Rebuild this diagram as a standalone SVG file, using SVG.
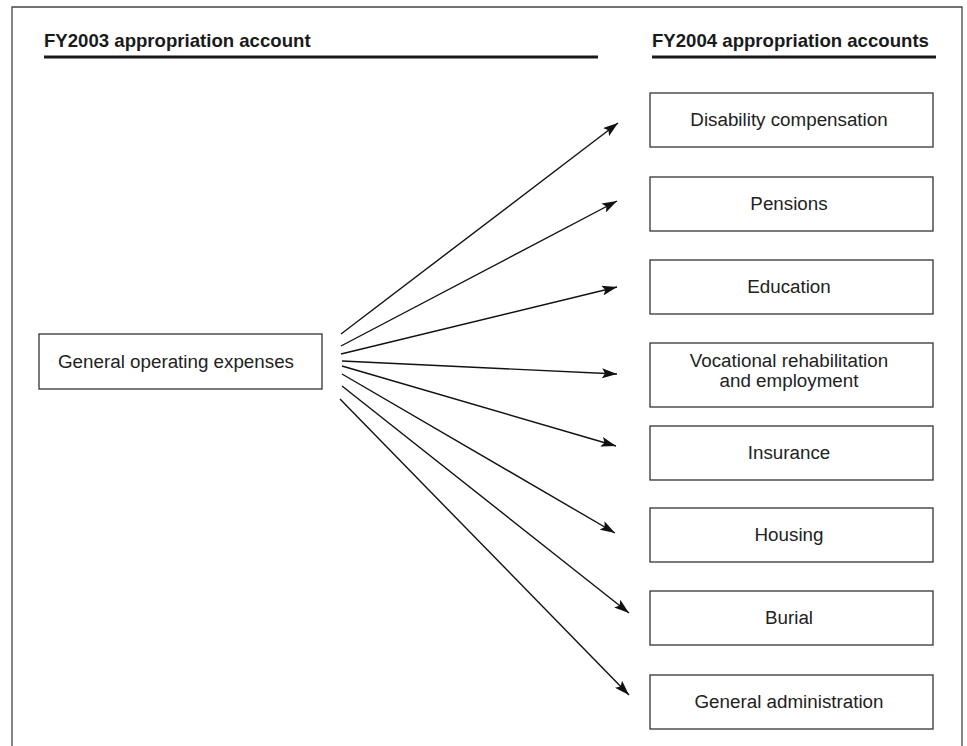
<svg xmlns="http://www.w3.org/2000/svg" width="967" height="746" viewBox="0 0 967 746">
<style>
.frame{fill:none;stroke:#444;stroke-width:1.3}
.hdr{font-family:"Liberation Sans",Arial,sans-serif;font-weight:bold;font-size:18.6px;fill:#1a1a1a}
.rule{stroke:#1a1a1a;stroke-width:3}
.box{fill:#fff;stroke:#333;stroke-width:1.3}
.lbl{font-family:"Liberation Sans",Arial,sans-serif;font-size:18.8px;fill:#222;text-anchor:middle}
.edge{stroke:#111;stroke-width:1.4;fill:none;marker-end:url(#ah)}
</style>
<defs>
<marker id="ah" markerUnits="userSpaceOnUse" markerWidth="16" markerHeight="10" refX="15" refY="5" orient="auto">
<path d="M0,0 L15,5 L0,10 L3,5 Z" fill="#111"/>
</marker>
</defs>
<rect width="967" height="746" fill="#fff"/>
<path class="frame" d="M12,750 V7 H962 V750"/>
<g id="header-fy2003">
<text class="hdr" x="44" y="47">FY2003 appropriation account</text>
<line class="rule" x1="44" y1="57" x2="598" y2="57"/>
</g>
<g id="header-fy2004">
<text class="hdr" x="652" y="47">FY2004 appropriation accounts</text>
<line class="rule" x1="652" y1="57" x2="936" y2="57"/>
</g>
<g id="node-general-operating">
<rect class="box" x="39" y="334" width="283" height="55"/>
<text class="lbl" x="176" y="368">General operating expenses</text>
</g>
<g id="node-disability">
<rect class="box" x="650" y="93" width="283" height="54"/>
<text class="lbl" x="789" y="126">Disability compensation</text>
</g>
<g id="node-pensions">
<rect class="box" x="650" y="177" width="283" height="54"/>
<text class="lbl" x="789" y="210">Pensions</text>
</g>
<g id="node-education">
<rect class="box" x="650" y="260" width="283" height="54"/>
<text class="lbl" x="789" y="293">Education</text>
</g>
<g id="node-vocational">
<rect class="box" x="650" y="343" width="283" height="64"/>
<text class="lbl" x="789" y="367">Vocational rehabilitation</text>
<text class="lbl" x="789" y="387">and employment</text>
</g>
<g id="node-insurance">
<rect class="box" x="650" y="426" width="283" height="54"/>
<text class="lbl" x="789" y="459">Insurance</text>
</g>
<g id="node-housing">
<rect class="box" x="650" y="508" width="283" height="54"/>
<text class="lbl" x="789" y="541">Housing</text>
</g>
<g id="node-burial">
<rect class="box" x="650" y="591" width="283" height="54"/>
<text class="lbl" x="789" y="624">Burial</text>
</g>
<g id="node-general-admin">
<rect class="box" x="650" y="675" width="283" height="54"/>
<text class="lbl" x="789" y="708">General administration</text>
</g>
<g id="connectors">
<line class="edge" x1="341" y1="334" x2="618" y2="123"/>
<line class="edge" x1="341" y1="346" x2="617" y2="201"/>
<line class="edge" x1="341" y1="354" x2="617" y2="287"/>
<line class="edge" x1="342" y1="361" x2="617" y2="374"/>
<line class="edge" x1="342" y1="366" x2="616" y2="446"/>
<line class="edge" x1="342" y1="374" x2="615" y2="533"/>
<line class="edge" x1="342" y1="386" x2="629" y2="613"/>
<line class="edge" x1="340" y1="399" x2="629" y2="695"/>
</g>
</svg>
